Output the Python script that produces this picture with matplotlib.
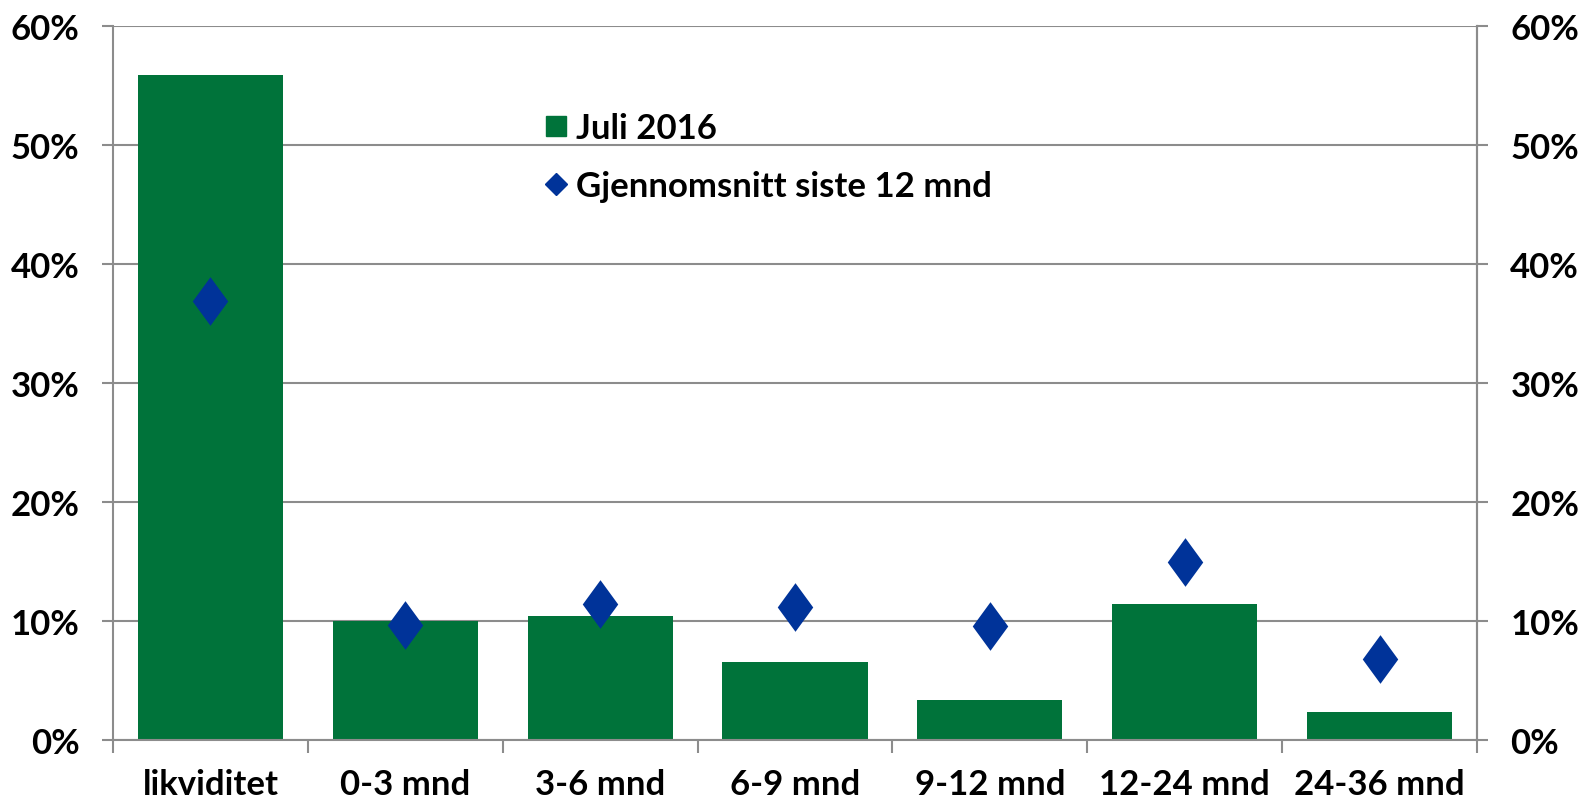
import matplotlib.pyplot as plt
from matplotlib.lines import Line2D
from matplotlib.ticker import FuncFormatter

# Data
categories = ["likviditet", "0-3 mnd", "3-6 mnd", "6-9 mnd", "9-12 mnd", "12-24 mnd", "24-36 mnd"]
juli_2016 = [55.9, 10.0, 10.4, 6.55, 3.4, 11.4, 2.35]  # %
snitt_12_mnd = [36.9, 9.7, 11.4, 11.2, 9.6, 15.0, 6.8]  # %
y_ticks = [0, 10, 20, 30, 40, 50, 60]

green = '#00733A'
blue = '#003399'
grey = '#8C8C8C'

plt.rcParams['font.family'] = ['Lato', 'DejaVu Sans']
plt.rcParams['font.weight'] = 'bold'

fig = plt.figure(figsize=(15.81, 8.03), dpi=100)
ax = fig.add_axes([0.0715, 0.0772, 0.8627, 0.8892])

# tall diamond marker (width about 0.73 of height)
tall_diamond = [(0, 1), (0.73, 0), (0, -1), (-0.73, 0), (0, 1)]

x = list(range(len(categories)))
ax.bar(x, juli_2016, width=0.745, color=green, zorder=2)
ax.plot(x, snitt_12_mnd, linestyle='none', marker=tall_diamond, markersize=35,
        color=blue, markeredgewidth=0, zorder=3)

ax.set_xlim(-0.5, len(categories) - 0.5)
ax.set_ylim(0, 60)
ax.set_yticks(y_ticks)
pct = FuncFormatter(lambda v, p: f'{v:.0f}%')
ax.yaxis.set_major_formatter(pct)
ax.grid(axis='y', color=grey, linewidth=1.5, zorder=0)

ax.set_xticks(x)
ax.set_xticklabels(categories)
ax.set_xticks([i - 0.5 for i in range(len(categories) + 1)], minor=True)
ax.tick_params(axis='x', which='major', length=0, pad=20, labelsize=25)
ax.tick_params(axis='x', which='minor', length=9, width=1.5, color=grey)
ax.tick_params(axis='y', length=8, width=1.5, color=grey, pad=16, labelsize=25)

for side in ['top']:
    ax.spines[side].set_visible(False)
for side in ['left', 'right', 'bottom']:
    ax.spines[side].set_color(grey)
    ax.spines[side].set_linewidth(1.5)

ax2 = ax.twinx()
ax2.set_ylim(0, 60)
ax2.set_yticks(y_ticks)
ax2.yaxis.set_major_formatter(pct)
ax2.tick_params(axis='y', length=8, width=1.5, color=grey, pad=16, labelsize=25)
for side in ['top', 'left', 'bottom']:
    ax2.spines[side].set_visible(False)
ax2.spines['right'].set_color(grey)
ax2.spines['right'].set_linewidth(1.5)

handles = [
    Line2D([], [], linestyle='none', marker='s', markersize=15, color=green),
    Line2D([], [], linestyle='none', marker='D', markersize=11, color=blue),
]
fig.legend(handles, ['Juli 2016', 'Gjennomsnitt siste 12 mnd'],
           loc='upper left', bbox_to_anchor=(0.324, 0.898), frameon=False,
           fontsize=25, handlelength=0.7, handletextpad=0.25, labelspacing=0.75)

fig.savefig('out.png', dpi=100)
